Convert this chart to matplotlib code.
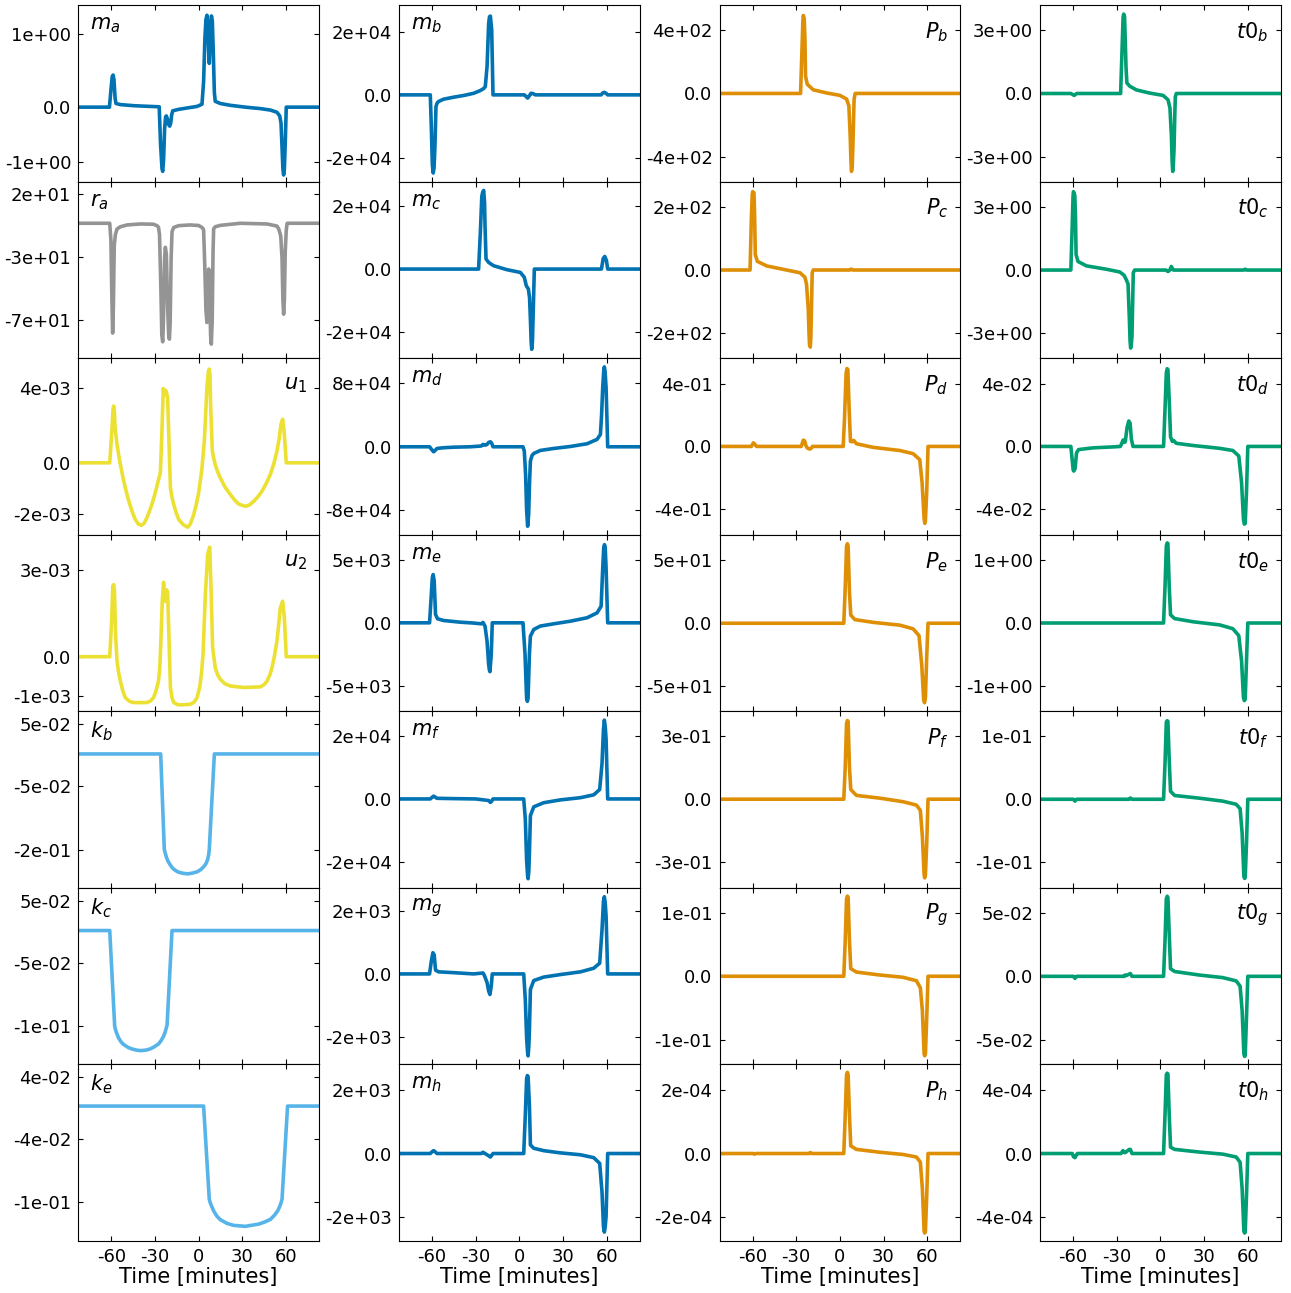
import numpy as np
import matplotlib.pyplot as plt

plt.rcParams['axes.unicode_minus'] = False
plt.rcParams['mathtext.fontset'] = 'dejavusans'

# (time [minutes], value) pairs; values in the unit given in `units`
m_a = [(-83, 0), (-61.3, 0), (-60.2, 0.25), (-59.4, 0.42), (-58.8, 0.44), (-58.2, 0.38), (-57.4, 0.12),
       (-56.8, 0.05), (-53.8, 0.035), (-44.6, 0.02), (-35.6, 0.012), (-27.1, 0.005), (-26.2, -0.5),
       (-25.2, -0.84), (-24.7, -0.88), (-24.1, -0.72), (-23.4, -0.3), (-22.7, -0.13), (-22.2, -0.12),
       (-21.5, -0.16), (-20.6, -0.24), (-19.9, -0.26), (-19.2, -0.22), (-18.5, -0.1), (-17.8, -0.05),
       (-13.7, -0.03), (-7.5, -0.01), (-1.1, 0.01), (2.3, 0.04), (3.4, 0.35), (4.3, 0.95), (5.0, 1.2),
       (5.7, 1.26), (6.3, 1.12), (6.9, 0.75), (7.3, 0.6), (7.7, 0.8), (8.2, 1.15), (8.8, 1.25), (9.4, 1.18),
       (10.0, 0.8), (10.8, 0.2), (11.4, 0.08), (14.9, 0.05), (21.8, 0.025), (32.1, 0.0), (42.4, -0.02),
       (49.3, -0.04), (53.8, -0.07), (55.7, -0.12), (56.6, -0.22), (57.3, -0.55), (57.9, -0.85),
       (58.4, -0.93), (58.9, -0.85), (59.5, -0.5), (60.2, 0), (83, 0)]
r_a = [(-83, 0), (-61.1, 0), (-60.3, -12), (-59.6, -55), (-59.1, -78.5), (-58.6, -60), (-58.0, -16),
       (-57.2, -8), (-56.1, -4.1), (-53.8, -2.5), (-49.2, -1.2), (-40.1, -0.5), (-31.0, -0.7), (-28.7, -1.7),
       (-27.6, -2.8), (-26.9, -8), (-26.1, -40), (-25.3, -80), (-24.7, -84.7), (-24.2, -70), (-23.4, -25),
       (-22.9, -17.2), (-22.2, -22), (-21.3, -60), (-20.6, -80), (-20.1, -82.8), (-19.6, -72), (-18.9, -25),
       (-18.3, -6), (-17.1, -3), (-13.7, -1.7), (-5.7, -1.2), (0, -1.6), (2.3, -3), (3.4, -4.5), (4.2, -30),
       (5.0, -62), (5.7, -70.9), (6.3, -55), (6.9, -32.7), (7.5, -45), (8.2, -80), (8.7, -86.4), (9.3, -70),
       (9.9, -20), (10.3, -4), (11.4, -2.5), (14.9, -1.5), (28.7, 0), (47.0, -0.5), (53.8, -2), (55.0, -4),
       (56.4, -9), (57.3, -25), (57.9, -55), (58.4, -65), (58.9, -55), (59.5, -20), (60.2, -5), (60.8, 0),
       (83, 0)]
u_1 = [(-83, 0), (-61.1, 0), (-59.5, 1.7), (-58.8, 2.6), (-58.4, 2.74), (-57.9, 2.5), (-57.5, 1.78),
       (-56.8, 1.3), (-56.1, 0.89), (-55.0, 0.4), (-53.8, -0.08), (-52.1, -0.68), (-50.4, -1.21),
       (-48.6, -1.7), (-46.9, -2.1), (-45.2, -2.45), (-43.5, -2.74), (-41.5, -2.95), (-39.4, -3.02),
       (-37.5, -2.92), (-35.6, -2.66), (-34.0, -2.37), (-32.2, -2.02), (-30.4, -1.6), (-28.7, -1.13),
       (-27.5, -0.8), (-26.3, -0.48), (-25.4, 1.2), (-24.3, 3.58), (-23.6, 3.3), (-22.9, 3.5), (-22.2, 3.44),
       (-21.3, 3.1), (-20.6, 1.5), (-19.4, -1.21), (-18.2, -1.7), (-17.1, -2.02), (-15.4, -2.42),
       (-13.7, -2.74), (-10.3, -3.0), (-7.5, -3.11), (-5.7, -2.95), (-3.4, -2.5), (-1.6, -2.0), (0, -1.45),
       (1.2, -0.85), (2.3, -0.24), (3.9, 1.05), (5.7, 3.63), (6.7, 4.4), (7.3, 4.52), (7.8, 4.2), (8.2, 2.82),
       (9.4, 0.56), (10.4, 0.2), (11.4, -0.08), (13.0, -0.42), (14.9, -0.73), (18.2, -1.18), (21.8, -1.53),
       (24.6, -1.79), (27.5, -1.99), (32.1, -2.1), (35.0, -2.03), (37.8, -1.86), (40.7, -1.64),
       (43.5, -1.37), (46.4, -1.0), (49.3, -0.56), (51.7, -0.03), (53.8, 0.56), (55.4, 1.2), (56.6, 1.86),
       (57.7, 2.1), (58.7, 1.53), (60.2, 0), (83, 0)]
u_2 = [(-83, 0), (-61.1, 0), (-59.8, 1.22), (-59.0, 2.43), (-58.4, 2.48), (-57.9, 2.3), (-57.0, 0.65),
       (-56.1, -0.15), (-55.0, -0.55), (-53.8, -0.84), (-52.1, -1.18), (-50.4, -1.41), (-47.5, -1.54),
       (-44.6, -1.58), (-35.6, -1.58), (-33.0, -1.52), (-31.0, -1.41), (-29.3, -1.18), (-27.6, -0.84),
       (-26.8, -0.45), (-26.3, 0.08), (-25.0, 1.9), (-24.1, 2.56), (-23.4, 2.1), (-22.7, 1.9), (-22.0, 2.3),
       (-21.3, 2.2), (-20.6, 1.0), (-19.4, -1.06), (-18.3, -1.42), (-17.1, -1.58), (-14.5, -1.65),
       (-12.6, -1.66), (-5.7, -1.64), (-3.0, -1.56), (-1.1, -1.41), (0.7, -1.06), (2.0, -0.55), (3.0, 0.08),
       (4.6, 2.14), (6.2, 3.52), (7.6, 3.77), (8.5, 2.37), (9.6, 0.31), (11.4, -0.38), (13.0, -0.62),
       (14.9, -0.78), (18.0, -0.93), (21.8, -1.01), (30.9, -1.06), (42.4, -1.04), (45.0, -0.96),
       (47.0, -0.84), (49.0, -0.62), (50.4, -0.38), (52.2, 0.05), (53.8, 0.54), (55.0, 1.1), (56.1, 1.68),
       (57.7, 1.91), (58.9, 1.34), (60.2, 0), (83, 0)]
k_b = [(-83, 0), (-26.1, 0), (-23.6, -0.1576), (-23.0, -0.163), (-22.2, -0.17), (-21.0, -0.177),
       (-19.5, -0.183), (-18.0, -0.188), (-16.0, -0.192), (-13.7, -0.195), (-10.5, -0.1968),
       (-7.5, -0.1976), (-4.5, -0.1965), (-1.1, -0.1943), (1.5, -0.1905), (3.4, -0.186), (5.0, -0.181),
       (6.2, -0.174), (6.9, -0.166), (7.3, -0.1576), (10.8, 0), (83, 0)]
k_c = [(-83, 0), (-61.1, 0), (-57.7, -0.163), (-57.0, -0.17), (-56.3, -0.175), (-55.0, -0.183),
       (-53.2, -0.19), (-51.6, -0.194), (-48.5, -0.199), (-45.9, -0.2016), (-42.5, -0.2038),
       (-39.4, -0.2045), (-36.0, -0.2035), (-33.3, -0.2016), (-30.5, -0.198), (-27.5, -0.193),
       (-25.7, -0.187), (-24.1, -0.18), (-22.9, -0.172), (-21.7, -0.161), (-18.3, 0), (83, 0)]
k_e = [(-83, 0), (3.4, 0), (7.3, -0.127), (8.0, -0.132), (8.8, -0.136), (10.3, -0.143), (12.5, -0.15),
       (14.9, -0.155), (19.5, -0.16), (24.1, -0.1627), (32.0, -0.164), (41.2, -0.161), (45.5, -0.158),
       (49.3, -0.1545), (52.0, -0.149), (54.3, -0.143), (55.9, -0.136), (56.6, -0.132), (57.3, -0.127),
       (61.1, 0), (83, 0)]

m_b = [(-83, 0), (-61.2, 0), (-60.5, -1.0), (-59.8, -2.2), (-59.2, -2.47), (-58.6, -2.3), (-58.0, -1.63),
       (-57.3, -0.37), (-56.4, -0.25), (-55.5, -0.21), (-52.1, -0.137), (-45.2, -0.074), (-38.3, -0.02),
       (-31.4, 0.05), (-26.8, 0.137), (-24.5, 0.2), (-23.4, 0.263), (-22.2, 0.89), (-21.1, 2.26),
       (-20.5, 2.47), (-19.9, 2.49), (-19.0, 2.05), (-18.1, 0), (3.4, 0), (4.8, -0.06), (5.7, -0.1),
       (6.9, -0.03), (8.0, 0.05), (9.4, 0.04), (11.0, 0), (56.2, 0), (57.3, 0.06), (58.4, 0.08), (59.6, 0.05),
       (60.7, 0), (83, 0)]
m_c = [(-83, 0), (-28.0, 0), (-26.8, 1.16), (-25.8, 2.3), (-25.2, 2.43), (-24.5, 2.49), (-23.9, 2.1),
       (-23.6, 1.38), (-22.9, 0.32), (-21.1, 0.21), (-17.7, 0.106), (-8.5, -0.02), (0.7, -0.106),
       (3.4, -0.26), (4.8, -0.53), (6.2, -0.63), (7.0, -0.9), (7.6, -1.59), (8.1, -2.3), (8.5, -2.54),
       (9.0, -2.3), (9.4, -1.59), (10.3, 0), (56.4, 0), (57.6, 0.33), (58.7, 0.4), (59.8, 0.28), (60.7, 0),
       (83, 0)]
m_d = [(-83, 0), (-61.7, 0), (-60.0, -0.4), (-58.9, -0.63), (-57.8, -0.45), (-56.6, -0.21), (-52.1, -0.12),
       (-45.2, -0.05), (-33.7, 0), (-26.1, 0.1), (-25.0, 0.3), (-24.1, 0.25), (-23.4, 0.2), (-22.2, 0.3),
       (-21.1, 0.55), (-19.9, 0.63), (-19.0, 0.45), (-18.1, 0), (2.5, 0), (3.4, -0.55), (4.3, -3.5),
       (5.0, -8.0), (5.7, -10.0), (6.4, -8.5), (7.0, -4.5), (7.6, -1.8), (8.7, -1.1), (9.9, -0.84),
       (14.4, -0.46), (23.6, -0.21), (35.1, 0.04), (46.5, 0.38), (53.4, 0.93), (55.7, 1.56), (56.5, 4.0),
       (57.3, 7.5), (58.0, 9.6), (58.4, 10.06), (58.9, 9.5), (59.6, 7.45), (60.2, 3.5), (60.7, 0), (83, 0)]
m_e = [(-83, 0), (-61.7, 0), (-60.5, 2.25), (-59.8, 3.6), (-59.2, 3.84), (-58.5, 3.31), (-57.6, 0.66),
       (-56.2, 0.32), (-52.1, 0.185), (-40.6, 0.05), (-31.4, -0.02), (-26.1, -0.08), (-25.0, 0.03),
       (-23.6, -0.26), (-22.2, -1.46), (-21.1, -3.3), (-20.6, -3.75), (-20.2, -3.89), (-19.3, -2.5),
       (-18.6, 0), (2.5, 0), (3.9, -2.5), (4.6, -4.8), (5.0, -6.0), (5.5, -6.25), (6.0, -6.0), (6.9, -2.5),
       (7.6, -1.06), (9.9, -0.53), (14.4, -0.26), (23.6, -0.08), (35.1, 0.13), (46.5, 0.4), (53.4, 0.79),
       (56.2, 1.32), (57.3, 4.37), (58.0, 6.0), (58.5, 6.22), (59.0, 6.0), (59.6, 4.37), (60.7, 0), (83, 0)]
m_f = [(-83, 0), (-61.2, 0), (-60.0, 0.05), (-58.9, 0.09), (-57.6, 0.05), (-56.6, 0.02), (-45, 0.01),
       (-30, 0), (-21.1, -0.05), (-19.9, -0.11), (-19.0, -0.07), (-18.1, 0), (3.0, 0), (4.1, -0.64),
       (5.0, -1.96), (5.7, -2.45), (6.0, -2.53), (6.5, -2.3), (6.9, -1.74), (7.6, -0.53), (9.9, -0.25),
       (16.7, -0.12), (28.2, -0.03), (42.0, 0.04), (51.1, 0.13), (55.2, 0.3), (56.8, 1.12), (57.8, 2.2),
       (58.4, 2.5), (59.0, 2.3), (59.6, 1.9), (60.7, 0), (83, 0)]
m_g = [(-83, 0), (-61.7, 0), (-60.5, 0.4), (-59.4, 0.67), (-58.5, 0.6), (-57.6, 0.12), (-55.5, 0.066),
       (-45.2, 0.04), (-31.4, 0.0), (-25.0, 0.03), (-24.1, -0.04), (-22.2, -0.27), (-21.1, -0.54),
       (-20.2, -0.65), (-19.3, -0.38), (-18.6, 0), (3.0, 0), (4.1, -0.82), (5.0, -2.03), (5.7, -2.5),
       (6.0, -2.59), (6.5, -2.3), (6.9, -1.81), (7.6, -0.49), (9.9, -0.21), (16.7, -0.1), (28.2, -0.02),
       (42.0, 0.066), (51.1, 0.18), (55.2, 0.34), (56.8, 1.39), (57.8, 2.3), (58.4, 2.44), (59.0, 2.25),
       (59.6, 1.83), (60.7, 0), (83, 0)]
m_h = [(-83, 0), (-61.2, 0), (-59.8, 0.06), (-58.9, 0.09), (-58.0, 0.06), (-56.6, 0), (-26.1, 0),
       (-25.0, 0.04), (-23.6, 0.0), (-21.1, -0.07), (-19.9, -0.11), (-19.0, -0.06), (-18.1, 0), (3.0, 0),
       (4.1, 1.21), (5.0, 2.36), (5.5, 2.45), (6.0, 2.42), (6.9, 1.54), (7.6, 0.27), (9.9, 0.165),
       (16.7, 0.09), (28.2, 0.02), (42.0, -0.04), (51.1, -0.13), (55.2, -0.31), (56.8, -1.21), (57.8, -2.3),
       (58.4, -2.47), (59.0, -2.3), (59.6, -1.98), (60.7, 0), (83, 0)]

P_b = [(-83, 0), (-27.0, 0), (-26.1, 2.54), (-25.4, 4.6), (-25.1, 4.91), (-24.5, 4.71), (-24.0, 3.5),
       (-23.6, 1.1), (-22.4, 0.58), (-18.3, 0.23), (-9.1, 0.03), (0, -0.12), (4.6, -0.35), (6.2, -0.78),
       (7.1, -2.66), (7.6, -4.2), (8.0, -4.91), (8.5, -4.6), (8.9, -3.52), (9.6, -1.0), (9.8, -0.35),
       (10.5, 0), (83, 0)]
P_c = [(-83, 0), (-61.7, 0), (-60.8, 1.65), (-60.2, 2.4), (-59.9, 2.49), (-59.0, 2.45), (-58.6, 1.8),
       (-58.1, 0.49), (-56.7, 0.275), (-50.3, 0.13), (-36.6, 0), (-27.4, -0.087), (-24.0, -0.23),
       (-22.9, -0.45), (-21.7, -1.25), (-21.2, -2.0), (-20.8, -2.4), (-20.3, -2.45), (-19.9, -2.1),
       (-19.0, -0.087), (-18.3, 0), (6.9, 0), (7.8, 0.03), (8.9, 0), (83, 0)]
P_d = [(-83, 0), (-60.8, 0), (-59.4, 0.23), (-58.1, 0.1), (-57.2, 0), (-26.5, 0), (-25.1, 0.4),
       (-24.2, 0.35), (-23.3, 0.05), (-22.4, -0.1), (-20.6, -0.17), (-19.5, -0.1), (-18.8, 0), (2.3, 0),
       (3.2, 1.77), (4.3, 4.67), (4.9, 4.96), (5.5, 4.9), (6.4, 2.35), (7.3, 0.32), (8.5, 0.3), (9.6, 0.38),
       (11.4, 0.17), (22.9, -0.06), (41.2, -0.26), (50.3, -0.46), (54.9, -0.84), (56.5, -2.29),
       (57.9, -4.61), (58.4, -4.9), (58.8, -4.7), (59.7, -2.87), (60.6, 0), (83, 0)]
P_e = [(-83, 0), (2.7, 0), (3.7, 2.84), (4.6, 6.11), (5.2, 6.3), (5.7, 6.11), (6.6, 2.47), (7.5, 0.65),
       (10.3, 0.29), (22.9, 0.07), (41.2, -0.15), (50.3, -0.44), (54.4, -0.98), (56.3, -3.35), (57.6, -6.07),
       (58.2, -6.3), (58.8, -5.89), (59.7, -2.62), (60.6, 0), (83, 0)]
P_f = [(-83, 0), (2.7, 0), (3.7, 1.54), (4.6, 3.61), (5.2, 3.75), (5.7, 3.7), (6.6, 1.54), (7.5, 0.46),
       (11.4, 0.18), (27.4, 0.05), (43.4, -0.12), (52.6, -0.28), (55.3, -0.53), (56.7, -1.77), (57.9, -3.6),
       (58.3, -3.75), (58.8, -3.6), (59.7, -2.1), (60.6, 0), (83, 0)]
P_g = [(-83, 0), (2.7, 0), (3.7, 5.6), (4.6, 12.2), (5.2, 12.6), (5.7, 12.4), (6.6, 5.6), (7.5, 1.2),
       (11.4, 0.66), (27.4, 0.2), (43.4, -0.16), (52.6, -0.7), (55.3, -1.8), (56.7, -5.4), (57.9, -12.2),
       (58.3, -12.5), (58.8, -12.2), (59.7, -6.5), (60.6, 0), (83, 0)]
P_h = [(-83, 0), (-59.4, 0), (-58.7, -0.02), (-57.5, 0), (-21, 0), (-20.3, 0.03), (-19, 0), (2.7, 0),
       (3.7, 1.21), (4.6, 2.47), (5.2, 2.55), (5.7, 2.47), (6.6, 1.21), (7.5, 0.24), (11.4, 0.13),
       (27.4, 0.04), (43.4, -0.03), (52.6, -0.11), (55.3, -0.27), (56.7, -1.1), (57.9, -2.44), (58.3, -2.5),
       (58.8, -2.44), (59.7, -1.32), (60.6, 0), (83, 0)]

t0_b = [(-83, 0), (-61.5, 0), (-59.2, -0.09), (-57.5, 0), (-27.3, 0), (-26.4, 1.9), (-25.6, 3.6),
        (-25.2, 3.75), (-24.6, 3.64), (-24.1, 2.5), (-23.6, 1.26), (-23.0, 0.5), (-21.1, 0.35),
        (-16.5, 0.17), (-7.3, 0.02), (1.9, -0.09), (5.3, -0.3), (6.6, -0.69), (7.6, -2.0), (8.1, -3.2),
        (8.5, -3.68), (8.9, -3.4), (9.4, -2.64), (10.0, -0.8), (10.3, -0.15), (11.0, 0), (83, 0)]
t0_c = [(-83, 0), (-61.5, 0), (-60.6, 2.04), (-60.0, 3.5), (-59.7, 3.74), (-58.8, 3.57), (-58.3, 2.5),
        (-57.9, 0.74), (-56.6, 0.41), (-50.8, 0.2), (-37.1, 0.04), (-27.9, -0.09), (-25.0, -0.24),
        (-23.4, -0.46), (-22.2, -0.67), (-21.3, -2.3), (-20.8, -3.4), (-20.4, -3.72), (-19.9, -3.5),
        (-19.5, -3.17), (-18.6, -0.13), (-17.7, 0), (4.0, 0), (5.2, -0.07), (6.5, 0.0), (7.5, 0.17),
        (9.0, 0), (57.3, 0), (58.3, 0.04), (59.3, 0), (83, 0)]
t0_d = [(-83, 0), (-61.5, 0), (-60.6, -0.84), (-59.9, -1.5), (-59.5, -1.57), (-58.6, -1.42),
        (-57.6, -0.41), (-56.2, -0.2), (-46.2, -0.09), (-32.4, -0.03), (-27.5, 0.0), (-26.6, 0.17),
        (-25.6, 0.41), (-24.7, 0.26), (-24.1, 0.3), (-22.9, 1.19), (-21.7, 1.62), (-20.8, 1.48),
        (-19.9, 0.46), (-18.8, 0), (2.2, 0), (3.2, 2.35), (4.1, 4.67), (4.7, 4.95), (5.2, 4.9), (6.1, 2.93),
        (7.0, 0.61), (8.2, 0.32), (9.1, 0.38), (10.9, 0.2), (22.4, 0.06), (40.7, -0.12), (49.8, -0.26),
        (53.9, -0.61), (55.8, -2.29), (57.1, -4.61), (57.7, -4.95), (58.3, -4.9), (59.2, -2.87), (60.1, 0),
        (83, 0)]
t0_e = [(-83, 0), (2.2, 0), (3.2, 0.57), (4.1, 1.22), (4.7, 1.27), (5.2, 1.26), (6.1, 0.57), (7.0, 0.13),
        (9.8, 0.07), (22.4, 0.02), (40.7, -0.03), (49.8, -0.09), (53.9, -0.2), (55.8, -0.6), (57.1, -1.18),
        (57.7, -1.23), (58.3, -1.21), (59.2, -0.6), (60.1, 0), (83, 0)]
t0_f = [(-83, 0), (-59.7, 0), (-58.7, -0.3), (-57.5, 0), (-21.5, 0), (-20.6, 0.2), (-19.5, 0), (2.2, 0),
        (3.2, 5.7), (4.1, 12.3), (4.7, 12.5), (5.2, 12.4), (6.1, 6.2), (7.0, 1.27), (9.8, 0.6), (26.9, 0.17),
        (42.9, -0.3), (52.1, -0.8), (54.8, -1.5), (56.2, -5.4), (57.4, -12.3), (57.9, -12.6), (58.3, -12.5),
        (59.2, -7.0), (60.1, 0), (83, 0)]
t0_g = [(-83, 0), (-59.7, 0), (-58.7, -0.16), (-57.5, 0), (-25, 0), (-24.3, 0.1), (-23.6, 0.05),
        (-20.6, 0.22), (-19.5, 0), (2.2, 0), (3.2, 2.8), (4.1, 6.1), (4.7, 6.3), (5.2, 6.2), (6.1, 3.3),
        (7.0, 0.6), (9.8, 0.38), (26.9, 0.1), (42.9, -0.1), (52.1, -0.36), (54.8, -0.77), (56.2, -2.7),
        (57.4, -6.1), (57.9, -6.3), (58.3, -6.25), (59.2, -3.2), (60.1, 0), (83, 0)]
t0_h = [(-83, 0), (-60.5, 0), (-59.7, -0.2), (-58.7, -0.26), (-57.7, -0.1), (-57.0, 0), (-27.0, 0),
        (-25.7, 0.18), (-24.5, 0.05), (-23.5, 0.1), (-21.5, 0.25), (-20.6, 0.26), (-19.5, 0.0), (2.2, 0),
        (3.2, 2.42), (4.1, 4.95), (4.7, 5.05), (5.2, 5.0), (6.1, 2.42), (7.0, 0.4), (9.8, 0.26),
        (26.9, 0.09), (42.9, -0.04), (52.1, -0.22), (54.8, -0.55), (56.2, -2.2), (57.4, -4.88),
        (57.9, -5.0), (58.3, -4.95), (59.2, -2.64), (60.1, 0), (83, 0)]

series = {'m_a': m_a, 'r_a': r_a, 'u_1': u_1, 'u_2': u_2, 'k_b': k_b, 'k_c': k_c, 'k_e': k_e,
          'm_b': m_b, 'm_c': m_c, 'm_d': m_d, 'm_e': m_e, 'm_f': m_f, 'm_g': m_g, 'm_h': m_h,
          'P_b': P_b, 'P_c': P_c, 'P_d': P_d, 'P_e': P_e, 'P_f': P_f, 'P_g': P_g, 'P_h': P_h,
          't0_b': t0_b, 't0_c': t0_c, 't0_d': t0_d, 't0_e': t0_e, 't0_f': t0_f, 't0_g': t0_g, 't0_h': t0_h}

# unit of the numbers above
units = {'m_a': 1, 'r_a': 1, 'u_1': 1e-3, 'u_2': 1e-3, 'k_b': 1, 'k_c': 1, 'k_e': 1,
         'm_b': 1e4, 'm_c': 1e4, 'm_d': 1e4, 'm_e': 1e3, 'm_f': 1e4, 'm_g': 1e3, 'm_h': 1e3,
         'P_b': 1e2, 'P_c': 1e2, 'P_d': 1e-1, 'P_e': 1e1, 'P_f': 1e-1, 'P_g': 1e-2, 'P_h': 1e-4,
         't0_b': 1, 't0_c': 1, 't0_d': 1e-2, 't0_e': 1, 't0_f': 1e-2, 't0_g': 1e-2, 't0_h': 1e-4}

# y ticks (same unit) and their printed labels
yticks = {
    'm_a': ([1, 0, -0.745], ['1e+00', '0.0', '-1e+00']),
    'r_a': ([21, -24, -69], ['2e+01', '-3e+01', '-7e+01']),
    'u_1': ([3.6, 0, -2.45], ['4e-03', '0.0', '-2e-03']),
    'u_2': ([3.0, 0, -1.35], ['3e-03', '0.0', '-1e-03']),
    'k_b': ([0.05, -0.0533, -0.159], ['5e-02', '-5e-02', '-2e-01']),
    'k_c': ([0.05, -0.0551, -0.163], ['5e-02', '-5e-02', '-1e-01']),
    'k_e': ([0.04, -0.04545, -0.1309], ['4e-02', '-4e-02', '-1e-01']),
    'm_b': ([2, 0, -2], ['2e+04', '0.0', '-2e+04']),
    'm_c': ([2, 0, -2], ['2e+04', '0.0', '-2e+04']),
    'm_d': ([8, 0, -8], ['8e+04', '0.0', '-8e+04']),
    'm_e': ([5, 0, -5], ['5e+03', '0.0', '-5e+03']),
    'm_f': ([2, 0, -2], ['2e+04', '0.0', '-2e+04']),
    'm_g': ([2, 0, -2], ['2e+03', '0.0', '-2e+03']),
    'm_h': ([2, 0, -2], ['2e+03', '0.0', '-2e+03']),
    'P_b': ([4, 0, -4], ['4e+02', '0.0', '-4e+02']),
    'P_c': ([2, 0, -2], ['2e+02', '0.0', '-2e+02']),
    'P_d': ([4, 0, -4], ['4e-01', '0.0', '-4e-01']),
    'P_e': ([5, 0, -5], ['5e+01', '0.0', '-5e+01']),
    'P_f': ([3, 0, -3], ['3e-01', '0.0', '-3e-01']),
    'P_g': ([10, 0, -10], ['1e-01', '0.0', '-1e-01']),
    'P_h': ([2, 0, -2], ['2e-04', '0.0', '-2e-04']),
    't0_b': ([3, 0, -3], ['3e+00', '0.0', '-3e+00']),
    't0_c': ([3, 0, -3], ['3e+00', '0.0', '-3e+00']),
    't0_d': ([4, 0, -4], ['4e-02', '0.0', '-4e-02']),
    't0_e': ([1, 0, -1], ['1e+00', '0.0', '-1e+00']),
    't0_f': ([10, 0, -10], ['1e-01', '0.0', '-1e-01']),
    't0_g': ([5, 0, -5], ['5e-02', '0.0', '-5e-02']),
    't0_h': ([4, 0, -4], ['4e-04', '0.0', '-4e-04']),
}

ylims = {'m_a': (-1.02, 1.40), 'r_a': (-96.4, 29.8), 'u_1': (-3.47, 5.05), 'u_2': (-1.88, 4.2),
         'k_b': (-0.2207, 0.0703), 'k_c': (-0.228, 0.0727), 'k_e': (-0.184, 0.0568),
         'm_b': (-2.74, 2.84), 'm_c': (-2.82, 2.77), 'm_d': (-11.07, 11.16), 'm_e': (-7.04, 7.01),
         'm_f': (-2.82, 2.78), 'm_g': (-2.86, 2.72), 'm_h': (-2.75, 2.80),
         'P_b': (-5.55, 5.57), 'P_c': (-2.80, 2.81), 'P_d': (-5.623, 5.623), 'P_e': (-6.98, 7.02),
         'P_f': (-4.226, 4.19), 'P_g': (-13.86, 13.9), 'P_h': (-2.75, 2.80),
         't0_b': (-4.16, 4.18), 't0_c': (-4.2, 4.22), 't0_d': (-5.623, 5.623), 't0_e': (-1.40, 1.40),
         't0_f': (-14.1, 14.0), 't0_g': (-6.93, 6.96), 't0_h': (-5.5, 5.6)}

columns = [['m_a', 'r_a', 'u_1', 'u_2', 'k_b', 'k_c', 'k_e'],
           ['m_b', 'm_c', 'm_d', 'm_e', 'm_f', 'm_g', 'm_h'],
           ['P_b', 'P_c', 'P_d', 'P_e', 'P_f', 'P_g', 'P_h'],
           ['t0_b', 't0_c', 't0_d', 't0_e', 't0_f', 't0_g', 't0_h']]

colors = {'m': '#0173B2', 'r': '#949494', 'u': '#ECE133', 'k': '#56B4E9', 'P': '#DE8F05', 't0': '#029E73'}
right_labels = ['u_1', 'u_2'] + columns[2] + columns[3]

W, H = 1291, 1293
fig = plt.figure(figsize=(W / 100, H / 100), dpi=100)

ax_left = [78.3, 399, 719.5, 1040]
ax_w = 240.7
top, bottom = 5, 1241
row_h = (bottom - top) / 7

for c, names in enumerate(columns):
    for r, name in enumerate(names):
        y0 = H - (top + (r + 1) * row_h)
        ax = fig.add_axes([ax_left[c] / W, y0 / H, ax_w / W, row_h / H])
        pts = np.array(series[name], dtype=float)
        u = units[name]
        key = name.split('_')[0]
        ax.plot(pts[:, 0], pts[:, 1] * u, color=colors[key], lw=2.6,
                solid_joinstyle='round', solid_capstyle='round')
        ax.set_xlim(-82.7, 82.7)
        lo, hi = ylims[name]
        ax.set_ylim(lo * u, hi * u)
        tv, tl = yticks[name]
        ax.set_yticks([v * u for v in tv])
        ax.set_yticklabels(tl)
        ax.set_xticks([-60, -30, 0, 30, 60])
        ax.tick_params(direction='in', top=True, right=True, labelsize=13, pad=5)
        if r == 6:
            ax.set_xticklabels(['-60', '-30', '0', '30', '60'])
            ax.set_xlabel('Time [minutes]', fontsize=15, labelpad=1)
        else:
            ax.set_xticklabels([])
        base, sub = name.split('_')
        label = '$%s_{%s}$' % (base, sub)
        if name in right_labels:
            ax.text(0.95, 1 - 27 / row_h, label, transform=ax.transAxes, ha='right', va='center', fontsize=15)
        else:
            ax.text(0.05, 1 - 20 / row_h, label, transform=ax.transAxes, ha='left', va='center', fontsize=15)

fig.savefig('out.png', dpi=100)
